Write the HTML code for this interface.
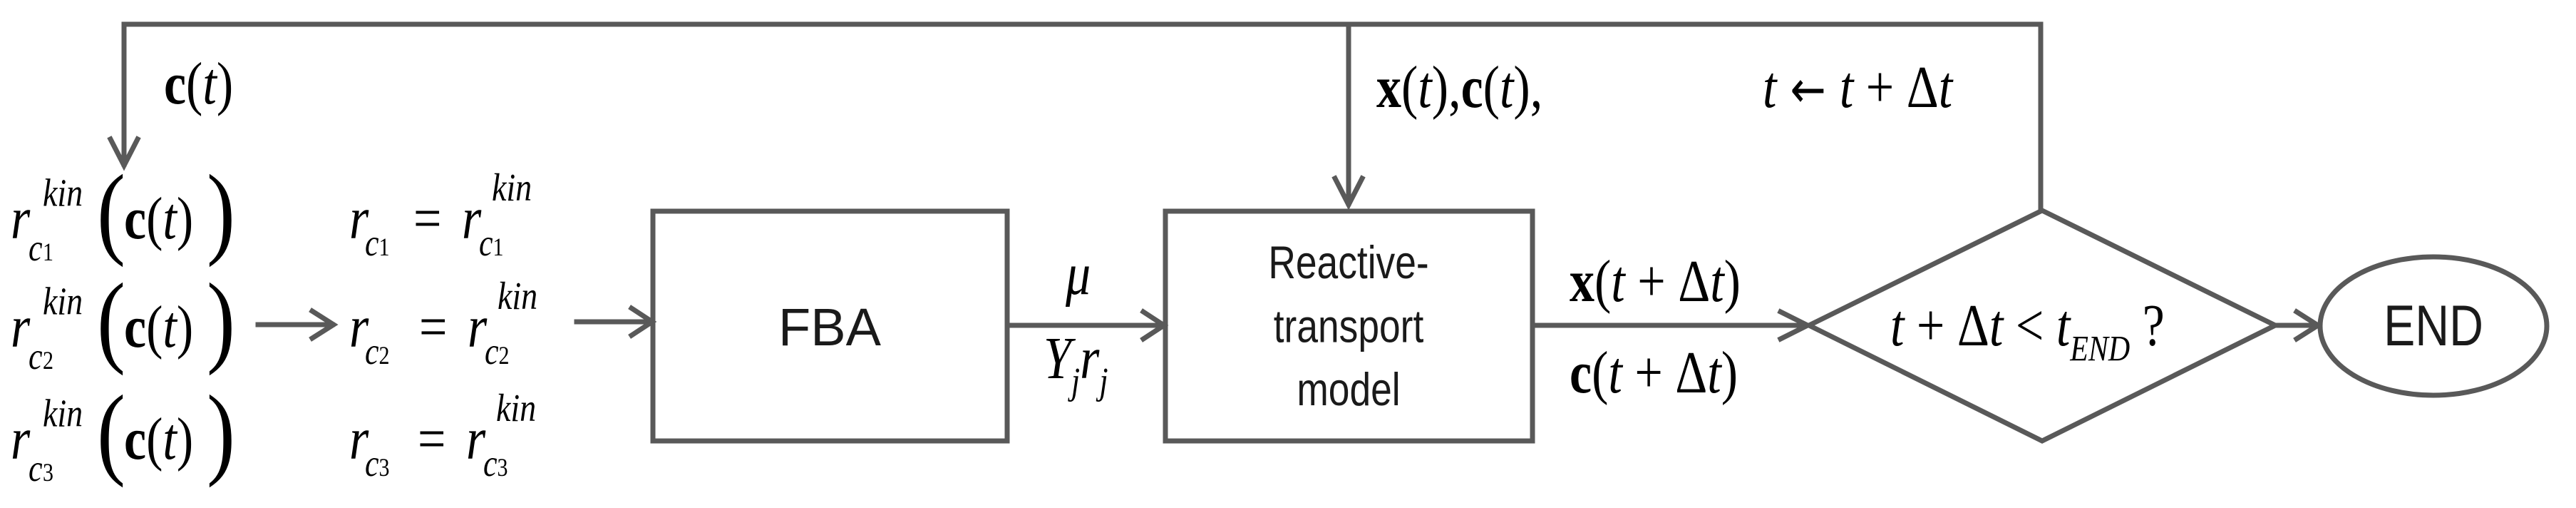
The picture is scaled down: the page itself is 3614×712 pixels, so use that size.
<!DOCTYPE html>
<html><head><meta charset="utf-8"><style>
html,body{margin:0;padding:0;background:#fff;}
svg{display:block;}
.m{font-family:"Liberation Serif",serif;fill:#000;}
.i{font-style:italic;}
.b{font-weight:bold;}
.s{font-family:"Liberation Sans",sans-serif;fill:#1a1a1a;}
</style></head><body>
<svg width="3614" height="712" viewBox="0 0 3614 712" xmlns="http://www.w3.org/2000/svg">
<defs>
<g id="lhs">
  <text class="m i" x="15" y="0" font-size="70">r</text>
  <text class="m i" x="40" y="26" font-size="44">c</text>
  <text class="m i" x="60" y="-38" font-size="46">kin</text>
  <text class="m" x="136" y="8" font-size="120">(</text>
  <text class="m" x="174" y="0" font-size="70"><tspan class="b">c</tspan>(<tspan class="i">t</tspan>)</text>
  <text class="m" x="290" y="8" font-size="120">)</text>
</g>
</defs>
<g stroke="#595959" stroke-width="7" fill="none" stroke-linecap="square">
  <polyline points="2863,295 2863,34 174,34 174,230"/>
  <polyline points="155,195 174,232 193,195"/>
  <line x1="1892" y1="34" x2="1892" y2="285"/>
  <polyline points="1873,250 1892,287 1911,250"/>
  <line x1="362" y1="455" x2="466" y2="455"/>
  <polyline points="438,436 468,455 438,474"/>
  <line x1="809" y1="451" x2="914" y2="451"/>
  <polyline points="886,432 915,451 886,470"/>
  <rect x="916" y="296" width="497" height="322"/>
  <rect x="1635" y="296" width="515" height="322"/>
  <line x1="1413" y1="456" x2="1632" y2="456"/>
  <polyline points="1604,437 1633,456 1604,475"/>
  <line x1="2150" y1="456" x2="2535" y2="456"/>
  <polyline points="2498,437 2536,456 2498,475"/>
  <polygon points="2538,456 2865,295 3192,456 2865,618"/>
  <line x1="3192" y1="456" x2="3250" y2="456"/>
  <polyline points="3222,437 3252,456 3222,475"/>
  <ellipse cx="3414" cy="457" rx="159" ry="97"/>
</g>
<g transform="translate(0,145) scale(1,1.2)"><text class="m" x="230" y="0" font-size="70"><tspan class="b">c</tspan>(<tspan class="i">t</tspan>)</text></g>
<g transform="translate(0,150) scale(1,1.2)"><text class="m" x="1931" y="0" font-size="70"><tspan class="b">x</tspan>(<tspan class="i">t</tspan>),<tspan class="b">c</tspan>(<tspan class="i">t</tspan>),</text></g>
<g transform="translate(0,150) scale(1,1.2)"><text class="m" x="2473" y="0" font-size="70"><tspan class="i">t</tspan><tspan font-family="DejaVu Sans" font-size="60"> ← </tspan><tspan class="i">t</tspan> + Δ<tspan class="i">t</tspan></text></g>

<g transform="translate(0,334) scale(1,1.2)"><use href="#lhs"/><text class="m" x="60" y="26" font-size="30">1</text></g>
<g transform="translate(0,486) scale(1,1.2)"><use href="#lhs"/><text class="m" x="60" y="26" font-size="30">2</text></g>
<g transform="translate(0,643) scale(1,1.2)"><use href="#lhs"/><text class="m" x="60" y="26" font-size="30">3</text></g>

<g transform="translate(0,334) scale(1,1.2)">
  <text class="m i" x="490" y="0" font-size="70">r</text>
  <text class="m i" x="512" y="20" font-size="44">c<tspan font-size="30" font-style="normal">1</tspan></text>
  <text class="m" x="580" y="0" font-size="70">=</text>
  <text class="m i" x="648" y="0" font-size="70">r</text>
  <text class="m i" x="672" y="20" font-size="44">c<tspan font-size="30" font-style="normal">1</tspan></text>
  <text class="m i" x="690" y="-44" font-size="46">kin</text>
</g>
<g transform="translate(0,486) scale(1,1.2)">
  <text class="m i" x="490" y="0" font-size="70">r</text>
  <text class="m i" x="512" y="20" font-size="44">c<tspan font-size="30" font-style="normal">2</tspan></text>
  <text class="m" x="588" y="0" font-size="70">=</text>
  <text class="m i" x="656" y="0" font-size="70">r</text>
  <text class="m i" x="680" y="20" font-size="44">c<tspan font-size="30" font-style="normal">2</tspan></text>
  <text class="m i" x="698" y="-44" font-size="46">kin</text>
</g>
<g transform="translate(0,643) scale(1,1.2)">
  <text class="m i" x="490" y="0" font-size="70">r</text>
  <text class="m i" x="512" y="20" font-size="44">c<tspan font-size="30" font-style="normal">3</tspan></text>
  <text class="m" x="586" y="0" font-size="70">=</text>
  <text class="m i" x="654" y="0" font-size="70">r</text>
  <text class="m i" x="678" y="20" font-size="44">c<tspan font-size="30" font-style="normal">3</tspan></text>
  <text class="m i" x="696" y="-44" font-size="46">kin</text>
</g>

<text class="s" x="1164" y="484" font-size="74" text-anchor="middle">FBA</text>
<g transform="translate(0,412) scale(1,1.2)"><text class="m i" x="1495" y="0" font-size="70">μ</text></g>
<g transform="translate(0,530) scale(1,1.2)"><text class="m i" x="1464" y="0" font-size="70">Y<tspan font-size="44" dy="18">j</tspan><tspan dy="-18">r</tspan><tspan font-size="44" dy="18">j</tspan></text></g>

<g transform="translate(1892,0) scale(0.92,1.12)">
<text class="s" x="0" y="348" font-size="58" text-anchor="middle">Reactive-</text>
<text class="s" x="0" y="428" font-size="58" text-anchor="middle">transport</text>
<text class="s" x="0" y="507" font-size="58" text-anchor="middle">model</text>
</g>

<g transform="translate(0,422) scale(1,1.2)"><text class="m" x="2202" y="0" font-size="70"><tspan class="b">x</tspan>(<tspan class="i">t</tspan> + Δ<tspan class="i">t</tspan>)</text></g>
<g transform="translate(0,550) scale(1,1.2)"><text class="m" x="2202" y="0" font-size="70"><tspan class="b">c</tspan>(<tspan class="i">t</tspan> + Δ<tspan class="i">t</tspan>)</text></g>

<g transform="translate(0,484) scale(1,1.2)"><text class="m" x="2652" y="0" font-size="70"><tspan class="i">t</tspan> + Δ<tspan class="i">t</tspan> &lt; <tspan class="i">t</tspan><tspan class="i" font-size="42" dy="18">END</tspan><tspan dy="-18"> ?</tspan></text></g>
<g transform="translate(3414,0) scale(0.92,1.12)"><text class="s" x="0" y="432" font-size="72" text-anchor="middle">END</text></g>
</svg>
</body></html>
